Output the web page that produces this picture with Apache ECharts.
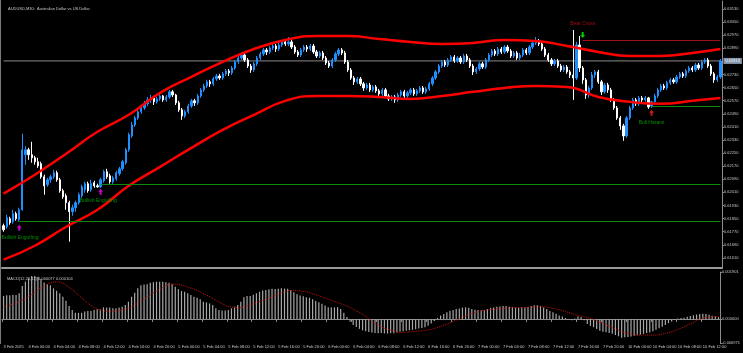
<!DOCTYPE html>
<html>
<head>
<meta charset="utf-8">
<style>
html,body{margin:0;padding:0;background:#000}
#chart{width:743px;height:353px}
</style>
<script src="https://cdn.jsdelivr.net/npm/echarts@6/dist/echarts.min.js"></script>
</head>
<body>
<div id="chart"></div>
<script>
// AUDUSD M30, one row per bar: [open, close, low, high]
const candles = [
[0.61806,0.61782,0.61770,0.61819],[0.61800,0.61855,0.61788,0.61873],[0.61849,0.61825,0.61812,0.61861],[0.61831,0.61880,0.61819,0.61904],
[0.61880,0.61849,0.61837,0.61892],[0.61843,0.61904,0.61831,0.61916],[0.61904,0.62270,0.61898,0.62368],[0.62240,0.62270,0.62179,0.62294],
[0.62270,0.62240,0.62209,0.62282],[0.62240,0.62221,0.62191,0.62319],[0.62221,0.62197,0.62179,0.62233],[0.62197,0.62172,0.62160,0.62221],
[0.62185,0.62105,0.62093,0.62197],[0.62105,0.62050,0.61996,0.62118],[0.62057,0.62087,0.62044,0.62099],[0.62087,0.62105,0.62069,0.62118],
[0.62105,0.62130,0.62093,0.62148],[0.62130,0.62087,0.62075,0.62142],[0.62087,0.62020,0.62008,0.62099],[0.62020,0.61983,0.61971,0.62032],
[0.61989,0.61947,0.61904,0.62002],[0.61947,0.61892,0.61709,0.61959],[0.61892,0.61916,0.61867,0.61935],[0.61916,0.61947,0.61892,0.61959],
[0.61947,0.61996,0.61935,0.62008],[0.61989,0.62044,0.61977,0.62057],[0.62026,0.62063,0.62008,0.62075],[0.62063,0.62020,0.62008,0.62075],
[0.62026,0.62063,0.62014,0.62087],[0.62069,0.62050,0.62038,0.62081],[0.62050,0.62044,0.62038,0.62063],[0.62044,0.62087,0.62038,0.62099],
[0.62081,0.62136,0.62069,0.62148],[0.62136,0.62105,0.62093,0.62154],[0.62111,0.62075,0.62063,0.62124],[0.62075,0.62099,0.62063,0.62111],
[0.62093,0.62130,0.62081,0.62142],[0.62124,0.62154,0.62111,0.62166],[0.62154,0.62197,0.62142,0.62209],[0.62191,0.62270,0.62179,0.62282],
[0.62270,0.62362,0.62258,0.62374],[0.62355,0.62422,0.62343,0.62441],[0.62422,0.62465,0.62410,0.62477],[0.62465,0.62502,0.62453,0.62514],
[0.62502,0.62526,0.62490,0.62544],[0.62526,0.62551,0.62514,0.62569],[0.62551,0.62575,0.62538,0.62593],[0.62575,0.62587,0.62557,0.62605],
[0.62587,0.62563,0.62544,0.62599],[0.62563,0.62581,0.62551,0.62593],[0.62581,0.62599,0.62569,0.62618],[0.62599,0.62575,0.62563,0.62605],
[0.62575,0.62593,0.62563,0.62605],[0.62593,0.62624,0.62581,0.62636],[0.62624,0.62605,0.62593,0.62636],[0.62605,0.62557,0.62544,0.62612],
[0.62557,0.62514,0.62502,0.62569],[0.62514,0.62477,0.62453,0.62526],[0.62477,0.62502,0.62465,0.62514],[0.62502,0.62538,0.62490,0.62551],
[0.62538,0.62569,0.62526,0.62581],[0.62569,0.62557,0.62538,0.62581],[0.62557,0.62599,0.62544,0.62612],[0.62599,0.62636,0.62587,0.62648],
[0.62636,0.62660,0.62624,0.62673],[0.62660,0.62685,0.62648,0.62697],[0.62685,0.62673,0.62654,0.62697],[0.62673,0.62703,0.62660,0.62715],
[0.62703,0.62721,0.62691,0.62734],[0.62721,0.62709,0.62697,0.62734],[0.62709,0.62734,0.62697,0.62746],[0.62734,0.62752,0.62721,0.62764],
[0.62752,0.62740,0.62721,0.62764],[0.62740,0.62770,0.62727,0.62782],[0.62770,0.62807,0.62758,0.62819],[0.62807,0.62831,0.62795,0.62843],
[0.62831,0.62849,0.62819,0.62862],[0.62849,0.62819,0.62807,0.62862],[0.62819,0.62782,0.62770,0.62831],[0.62782,0.62758,0.62740,0.62795],
[0.62758,0.62795,0.62746,0.62807],[0.62795,0.62831,0.62782,0.62843],[0.62831,0.62856,0.62819,0.62868],[0.62856,0.62880,0.62843,0.62892],
[0.62880,0.62868,0.62849,0.62892],[0.62868,0.62892,0.62856,0.62904],[0.62892,0.62904,0.62880,0.62917],[0.62904,0.62886,0.62868,0.62917],
[0.62886,0.62910,0.62874,0.62923],[0.62910,0.62929,0.62898,0.62941],[0.62929,0.62917,0.62904,0.62941],[0.62917,0.62929,0.62904,0.62959],
[0.62929,0.62898,0.62886,0.62941],[0.62898,0.62868,0.62856,0.62910],[0.62868,0.62849,0.62837,0.62880],[0.62849,0.62880,0.62837,0.62892],
[0.62880,0.62898,0.62868,0.62910],[0.62898,0.62886,0.62868,0.62910],[0.62886,0.62904,0.62874,0.62917],[0.62904,0.62868,0.62856,0.62917],
[0.62868,0.62843,0.62831,0.62880],[0.62843,0.62862,0.62831,0.62874],[0.62862,0.62831,0.62819,0.62874],[0.62831,0.62801,0.62788,0.62843],
[0.62801,0.62782,0.62770,0.62813],[0.62782,0.62819,0.62770,0.62831],[0.62819,0.62856,0.62807,0.62868],[0.62856,0.62880,0.62843,0.62892],
[0.62880,0.62862,0.62849,0.62892],[0.62862,0.62807,0.62795,0.62874],[0.62807,0.62758,0.62746,0.62819],[0.62758,0.62709,0.62697,0.62770],
[0.62709,0.62685,0.62666,0.62721],[0.62685,0.62703,0.62673,0.62715],[0.62703,0.62673,0.62660,0.62715],[0.62673,0.62648,0.62630,0.62685],
[0.62648,0.62666,0.62636,0.62679],[0.62666,0.62636,0.62624,0.62679],[0.62636,0.62654,0.62624,0.62666],[0.62654,0.62630,0.62618,0.62666],
[0.62630,0.62612,0.62599,0.62642],[0.62612,0.62636,0.62599,0.62648],[0.62636,0.62599,0.62587,0.62648],[0.62599,0.62581,0.62569,0.62612],
[0.62581,0.62593,0.62569,0.62605],[0.62593,0.62575,0.62557,0.62605],[0.62575,0.62605,0.62563,0.62618],[0.62605,0.62624,0.62593,0.62636],
[0.62624,0.62599,0.62587,0.62636],[0.62599,0.62618,0.62587,0.62630],[0.62618,0.62636,0.62605,0.62648],[0.62636,0.62612,0.62599,0.62648],
[0.62612,0.62630,0.62599,0.62642],[0.62630,0.62648,0.62618,0.62660],[0.62648,0.62624,0.62612,0.62660],[0.62624,0.62642,0.62612,0.62654],
[0.62642,0.62673,0.62630,0.62685],[0.62673,0.62709,0.62660,0.62721],[0.62709,0.62746,0.62697,0.62758],[0.62746,0.62782,0.62734,0.62795],
[0.62782,0.62807,0.62770,0.62819],[0.62807,0.62788,0.62776,0.62819],[0.62788,0.62819,0.62776,0.62831],[0.62819,0.62837,0.62807,0.62849],
[0.62837,0.62813,0.62801,0.62849],[0.62813,0.62831,0.62801,0.62843],[0.62831,0.62807,0.62795,0.62843],[0.62807,0.62843,0.62795,0.62856],
[0.62843,0.62819,0.62807,0.62856],[0.62819,0.62782,0.62770,0.62831],[0.62782,0.62746,0.62727,0.62795],[0.62746,0.62764,0.62734,0.62776],
[0.62764,0.62795,0.62752,0.62807],[0.62795,0.62776,0.62764,0.62807],[0.62776,0.62819,0.62764,0.62831],[0.62819,0.62849,0.62807,0.62862],
[0.62849,0.62874,0.62837,0.62886],[0.62874,0.62856,0.62843,0.62886],[0.62856,0.62886,0.62843,0.62898],[0.62886,0.62868,0.62856,0.62898],
[0.62868,0.62898,0.62856,0.62910],[0.62898,0.62874,0.62862,0.62910],[0.62874,0.62843,0.62831,0.62886],[0.62843,0.62862,0.62831,0.62874],
[0.62862,0.62831,0.62819,0.62874],[0.62831,0.62849,0.62819,0.62862],[0.62849,0.62880,0.62837,0.62892],[0.62880,0.62862,0.62849,0.62892],
[0.62862,0.62898,0.62849,0.62910],[0.62898,0.62923,0.62886,0.62935],[0.62923,0.62935,0.62910,0.62959],[0.62935,0.62917,0.62904,0.62947],
[0.62917,0.62886,0.62874,0.62929],[0.62886,0.62849,0.62837,0.62898],[0.62849,0.62819,0.62807,0.62862],[0.62819,0.62795,0.62782,0.62831],
[0.62795,0.62813,0.62782,0.62825],[0.62813,0.62782,0.62770,0.62825],[0.62782,0.62758,0.62746,0.62795],[0.62758,0.62776,0.62746,0.62788],
[0.62776,0.62746,0.62734,0.62788],[0.62746,0.62727,0.62709,0.62758],[0.62727,0.62709,0.62575,0.63002],[0.62709,0.62910,0.62697,0.62929],
[0.62910,0.62770,0.62746,0.62965],[0.62770,0.62697,0.62673,0.62782],[0.62697,0.62605,0.62581,0.62709],[0.62605,0.62648,0.62587,0.62660],
[0.62648,0.62727,0.62636,0.62746],[0.62727,0.62746,0.62709,0.62758],[0.62746,0.62685,0.62673,0.62758],[0.62685,0.62624,0.62605,0.62697],
[0.62624,0.62666,0.62612,0.62679],[0.62666,0.62636,0.62618,0.62679],[0.62636,0.62575,0.62563,0.62648],[0.62575,0.62526,0.62514,0.62587],
[0.62526,0.62465,0.62453,0.62538],[0.62465,0.62416,0.62392,0.62477],[0.62416,0.62355,0.62325,0.62429],[0.62355,0.62465,0.62343,0.62477],
[0.62465,0.62526,0.62453,0.62538],[0.62526,0.62575,0.62514,0.62587],[0.62575,0.62551,0.62538,0.62587],[0.62551,0.62587,0.62538,0.62599],
[0.62587,0.62575,0.62557,0.62599],[0.62575,0.62587,0.62563,0.62599],[0.62587,0.62532,0.62520,0.62593],[0.62538,0.62563,0.62526,0.62569],
[0.62563,0.62599,0.62551,0.62612],[0.62599,0.62636,0.62587,0.62648],[0.62636,0.62660,0.62624,0.62673],[0.62660,0.62648,0.62636,0.62673],
[0.62648,0.62679,0.62636,0.62691],[0.62679,0.62697,0.62666,0.62709],[0.62697,0.62685,0.62673,0.62709],[0.62685,0.62715,0.62673,0.62727],
[0.62715,0.62734,0.62703,0.62746],[0.62734,0.62721,0.62709,0.62746],[0.62721,0.62752,0.62709,0.62764],[0.62752,0.62770,0.62740,0.62782],
[0.62770,0.62758,0.62746,0.62782],[0.62758,0.62788,0.62746,0.62801],[0.62788,0.62770,0.62758,0.62801],[0.62770,0.62807,0.62758,0.62819],
[0.62807,0.62819,0.62795,0.62831],[0.62819,0.62782,0.62770,0.62831],[0.62782,0.62734,0.62721,0.62795],[0.62734,0.62697,0.62679,0.62746],
[0.62697,0.62715,0.62685,0.62727],[0.62715,0.62813,0.62703,0.62825]
];

// MACD(12,26,12) main line, one value per bar (drawn as histogram)
const macdMain = [
0.00093,0.00096,0.00096,0.00098,0.00097,0.00104,0.00133,0.00151,0.00164,0.00174,
0.00174,0.00171,0.00162,0.00148,0.00141,0.00137,0.00124,0.00114,0.00104,0.00090,
0.00074,0.00053,0.00036,0.00025,0.00025,0.00025,0.00030,0.00032,0.00032,0.00036,
0.00039,0.00039,0.00047,0.00046,0.00047,0.00043,0.00043,0.00046,0.00050,0.00057,
0.00070,0.00090,0.00106,0.00124,0.00137,0.00140,0.00141,0.00147,0.00149,0.00151,
0.00151,0.00151,0.00149,0.00147,0.00141,0.00130,0.00120,0.00113,0.00110,0.00104,
0.00097,0.00090,0.00086,0.00080,0.00070,0.00067,0.00063,0.00057,0.00043,0.00036,
0.00034,0.00034,0.00036,0.00043,0.00050,0.00057,0.00070,0.00088,0.00093,0.00093,
0.00098,0.00104,0.00110,0.00115,0.00117,0.00120,0.00122,0.00121,0.00122,0.00124,
0.00123,0.00122,0.00116,0.00108,0.00100,0.00095,0.00092,0.00088,0.00086,0.00080,
0.00073,0.00068,0.00062,0.00055,0.00048,0.00046,0.00047,0.00048,0.00040,0.00025,
0.00008,-0.00010,-0.00024,-0.00032,-0.00040,-0.00046,-0.00050,-0.00053,-0.00055,-0.00057,
-0.00058,-0.00057,-0.00058,-0.00059,-0.00058,-0.00058,-0.00055,-0.00052,-0.00050,-0.00048,
-0.00046,-0.00044,-0.00041,-0.00038,-0.00036,-0.00033,-0.00027,-0.00018,-0.00008,0.00004,
0.00014,0.00020,0.00027,0.00033,0.00036,0.00040,0.00042,0.00046,0.00047,0.00045,
0.00040,0.00037,0.00036,0.00034,0.00036,0.00040,0.00045,0.00047,0.00050,0.00051,
0.00053,0.00053,0.00050,0.00049,0.00046,0.00045,0.00046,0.00046,0.00049,0.00053,
0.00056,0.00056,0.00053,0.00047,0.00040,0.00032,0.00027,0.00021,0.00014,0.00010,
0.00004,-0.00002,-0.00005,0.00002,0.00010,0.00008,-0.00005,-0.00020,-0.00028,-0.00033,
-0.00040,-0.00048,-0.00052,-0.00054,-0.00057,-0.00060,-0.00065,-0.00070,-0.00076,-0.00074,
-0.00073,-0.00071,-0.00068,-0.00066,-0.00063,-0.00060,-0.00057,-0.00055,-0.00050,-0.00044,
-0.00037,-0.00031,-0.00024,-0.00017,-0.00010,-0.00004,0.00002,0.00004,0.00005,0.00009,
0.00012,0.00015,0.00018,0.00020,0.00021,0.00020,0.00017,0.00013,0.00010,0.000077
];

// MACD signal line read at sampled bars: [bar, value]
const macdSignal = [
[0,0.00048],[4,0.00065],[8,0.00090],[12,0.00125],[17,0.00150],[21,0.00128],[25,0.00085],[28,0.00055],
[31,0.00036],[34,0.00032],[39,0.00040],[45,0.00081],[50,0.00120],[54,0.00141],[59,0.00129],[65,0.00097],
[70,0.00062],[73,0.00048],[76,0.00046],[79,0.00057],[84,0.00080],[88,0.00100],[92,0.00115],[96,0.00112],
[100,0.00098],[104,0.00080],[108,0.00062],[112,0.00040],[116,0.00010],[120,-0.00025],[124,-0.00045],[128,-0.00054],
[132,-0.00050],[136,-0.00044],[140,-0.00030],[144,-0.00010],[148,0.00012],[152,0.00030],[156,0.00038],[160,0.00043],
[164,0.00046],[168,0.00048],[172,0.00050],[176,0.00043],[180,0.00030],[184,0.00015],[188,0.00002],[192,-0.00018],
[196,-0.00040],[200,-0.00058],[204,-0.00065],[208,-0.00065],[212,-0.00058],[216,-0.00042],[220,-0.00020],[224,0.00003],
[227,0.00008],[229,0.000104]
];

// red bands read at sampled bars: [bar, price]
const bandUpper = [
[0,0.62002],[10,0.62118],[20,0.62246],[30,0.62380],[40,0.62484],[50,0.62618],[60,0.62715],[70,0.62807],
[80,0.62886],[90,0.62941],[100,0.62965],[110,0.62965],[120,0.62947],[130,0.62929],[140,0.62917],[150,0.62923],
[160,0.62941],[170,0.62935],[180,0.62904],[190,0.62868],[200,0.62843],[210,0.62843],[220,0.62862],[229,0.62886]
];
const bandLower = [
[0,0.61599],[10,0.61684],[20,0.61800],[30,0.61904],[40,0.62050],[50,0.62166],[60,0.62282],[70,0.62392],
[80,0.62484],[90,0.62569],[100,0.62599],[110,0.62599],[120,0.62593],[130,0.62581],[140,0.62599],[150,0.62624],
[160,0.62648],[170,0.62660],[180,0.62654],[190,0.62593],[200,0.62563],[210,0.62551],[220,0.62569],[229,0.62587]
];

const timeTicks = [
[0,'3 Feb 2025'],[8,'4 Feb 00:00'],[16,'4 Feb 04:00'],[24,'4 Feb 08:00'],[32,'4 Feb 12:00'],[40,'4 Feb 16:00'],
[48,'4 Feb 20:00'],[56,'5 Feb 00:00'],[64,'5 Feb 04:00'],[72,'5 Feb 08:00'],[80,'5 Feb 12:00'],[88,'5 Feb 16:00'],
[96,'5 Feb 20:00'],[104,'6 Feb 00:00'],[112,'6 Feb 04:00'],[120,'6 Feb 08:00'],[128,'6 Feb 12:00'],[136,'6 Feb 16:00'],
[144,'6 Feb 20:00'],[152,'7 Feb 00:00'],[160,'7 Feb 04:00'],[168,'7 Feb 08:00'],[176,'7 Feb 12:00'],[184,'7 Feb 16:00'],
[192,'7 Feb 20:00'],[200,'10 Feb 00:00'],[208,'10 Feb 04:00'],[216,'10 Feb 08:00'],[224,'10 Feb 12:00']
];
const priceTicks = [0.6161,0.6169,0.6177,0.6185,0.6193,0.6201,0.6209,0.6217,0.6225,0.6233,
  0.6241,0.6249,0.6257,0.6265,0.6273,0.6289,0.6297,0.6305,0.6313];
const macdTicks = [0.001901, 0, -0.000971];
const bidPrice = 0.62813;

// pattern levels: [start bar, price]
const greenLevels = [[5,0.61831],[31,0.62057],[207,0.62535]];
const redLevels = [[185,0.62941]];

// pattern arrows and captions: [bar, price]
const upArrows = [[5,0.61794,'#ff00ff'],[31,0.62014,'#ff00ff'],[207,0.62496,'#ff2020']];
const downArrows = [[185,0.62971,'#00ff00']];
const captions = [
  [0,0.61733,'Bullish Engulfing','#00b000','left'],
  [25,0.61959,'Bullish Engulfing','#00b000','left'],
  [185,0.63039,'Bear Cross','#d01010','center'],
  [207,0.62435,'Bull Harami','#00b000','center']
];

const barIndex = candles.map((c, i) => i);
const tickMap = {};
timeTicks.forEach(t => { tickMap[t[0]] = t[1]; });
const lastBar = candles.length - 1;
const font = 'Liberation Sans';
const axisGray = '#8c8c8c';
const arrowPath = 'path://M5 0 L10 5 L7 5 L7 10 L3 10 L3 5 L0 5 Z';

const levelLines = [];
greenLevels.forEach(l => levelLines.push([
  { coord: [l[0], l[1]], lineStyle: { color: '#0a8a0a', width: 1.2, type: 'solid' } },
  { coord: [lastBar, l[1]] }
]));
redLevels.forEach(l => levelLines.push([
  { coord: [l[0], l[1]], lineStyle: { color: '#a01010', width: 1, type: 'solid' } },
  { coord: [lastBar, l[1]] }
]));

const chart = echarts.init(document.getElementById('chart'));
chart.setOption({
  backgroundColor: '#000000',
  animation: false,
  title: [
    { text: 'AUDUSD,M30:  Australian Dollar vs US Dollar', left: 3, top: 2,
      textStyle: { color: '#c8c8c8', fontSize: 4, fontWeight: 'normal', fontFamily: font } },
    { text: 'MACD(12,26,12) 0.000077 0.000104', left: 2, top: 272,
      textStyle: { color: '#c8c8c8', fontSize: 4, fontWeight: 'normal', fontFamily: font } }
  ],
  grid: [
    { left: 2, right: 21, top: 1, height: 267 },
    { left: 2, right: 21, top: 272, height: 71 }
  ],
  xAxis: [
    { type: 'category', gridIndex: 0, data: barIndex, boundaryGap: true,
      axisLine: { lineStyle: { color: '#9a9a9a', width: 2 } },
      axisTick: { show: false }, axisLabel: { show: false }, splitLine: { show: false } },
    { type: 'category', gridIndex: 1, data: barIndex, boundaryGap: true,
      axisLine: { lineStyle: { color: axisGray, width: 1 } },
      axisTick: { show: true, interval: i => tickMap[i] !== undefined, length: 3,
        lineStyle: { color: axisGray } },
      axisLabel: { show: true, interval: i => tickMap[i] !== undefined,
        formatter: (v, i) => tickMap[i] || '', align: 'left', margin: 2,
        color: '#c8c8c8', fontSize: 4, fontFamily: font },
      splitLine: { show: false } }
  ],
  yAxis: [
    { type: 'value', gridIndex: 0, position: 'right', min: 0.61548, max: 0.63179, scale: true,
      axisLine: { show: true, lineStyle: { color: axisGray } },
      axisTick: { show: true, length: 2, customValues: priceTicks, lineStyle: { color: axisGray } },
      axisLabel: { show: true, customValues: priceTicks, formatter: v => v.toFixed(5),
        margin: 2, color: '#c8c8c8', fontSize: 4, fontFamily: font },
      splitLine: { show: false } },
    { type: 'value', gridIndex: 1, position: 'right', min: -0.000971, max: 0.001901,
      axisLine: { show: true, lineStyle: { color: axisGray } },
      axisTick: { show: true, length: 2, customValues: macdTicks, lineStyle: { color: axisGray } },
      axisLabel: { show: true, customValues: macdTicks, formatter: v => v.toFixed(6),
        margin: 2, color: '#c8c8c8', fontSize: 4, fontFamily: font },
      splitLine: { show: false } }
  ],
  graphic: [
    { type: 'line', shape: { x1: 0.5, y1: 0, x2: 0.5, y2: 344 }, style: { stroke: '#7a7a7a', lineWidth: 1 } }
  ],
  series: [
    {
      // bid line with its price tag on the axis
      type: 'line', xAxisIndex: 0, yAxisIndex: 0, z: 1,
      data: [[0, bidPrice], [lastBar, bidPrice]], showSymbol: false,
      lineStyle: { color: '#8a8a8a', width: 1 },
      endLabel: { show: true, formatter: bidPrice.toFixed(5), distance: 3,
        backgroundColor: '#8797ab', color: '#eef3f8', fontSize: 4, fontFamily: font, padding: [1, 2] }
    },
    {
      type: 'candlestick', xAxisIndex: 0, yAxisIndex: 0, data: candles,
      barWidth: 1.8, z: 2,
      itemStyle: { color: '#1e90ff', color0: '#ffffff', borderColor: '#1e90ff', borderColor0: '#ffffff', borderWidth: 1 },
      markLine: { silent: true, symbol: ['none', 'none'], label: { show: false }, data: levelLines }
    },
    {
      type: 'line', xAxisIndex: 0, yAxisIndex: 0, data: bandUpper, smooth: true,
      showSymbol: false, z: 4, lineStyle: { color: '#ff0000', width: 2.5 }
    },
    {
      type: 'line', xAxisIndex: 0, yAxisIndex: 0, data: bandLower, smooth: true,
      showSymbol: false, z: 4, lineStyle: { color: '#ff0000', width: 2.5 }
    },
    {
      type: 'scatter', xAxisIndex: 0, yAxisIndex: 0, symbol: arrowPath, symbolSize: [5, 6], z: 5,
      data: upArrows.map(a => ({ value: [a[0], a[1]], itemStyle: { color: a[2] } }))
    },
    {
      type: 'scatter', xAxisIndex: 0, yAxisIndex: 0, symbol: arrowPath, symbolSize: [5, 6],
      symbolRotate: 180, z: 5,
      data: downArrows.map(a => ({ value: [a[0], a[1]], itemStyle: { color: a[2] } }))
    },
    {
      type: 'scatter', xAxisIndex: 0, yAxisIndex: 0, symbolSize: 0, z: 6,
      data: captions.map(c => ({
        value: [c[0], c[1]],
        label: { show: true, position: 'inside', formatter: c[2], color: c[3], align: c[4],
          verticalAlign: 'middle', fontSize: 5, fontFamily: font, offset: c[4] === 'left' ? [-2, 0] : [0, 0] }
      }))
    },
    {
      type: 'bar', xAxisIndex: 1, yAxisIndex: 1, data: macdMain, barWidth: 1.2,
      itemStyle: { color: '#a8a8a8' }
    },
    {
      type: 'line', xAxisIndex: 1, yAxisIndex: 1, data: macdSignal, smooth: true,
      showSymbol: false, lineStyle: { color: '#c81010', width: 1, type: 'dotted' }
    }
  ]
});
</script>
</body>
</html>
